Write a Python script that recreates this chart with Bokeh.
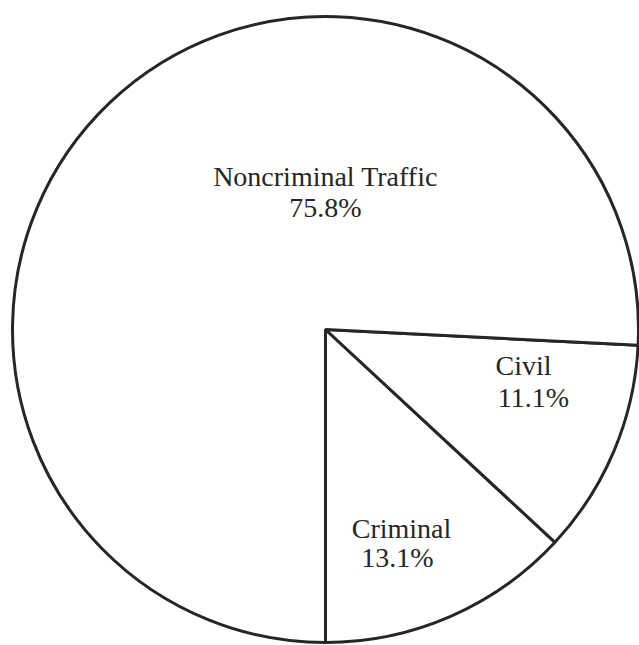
import numpy as np
from bokeh.plotting import figure
from bokeh.models import ColumnDataSource, Range1d
from bokeh.core.properties import value
from bokeh.embed import file_html
from bokeh.resources import INLINE

# ---- data ----
categories = ["Criminal", "Civil", "Noncriminal Traffic"]
percent = [13.1, 11.1, 75.8]
pct_labels = ["13.1%", "11.1%", "75.8%"]

# ---- layout / style ----
W, H = 639, 645
cx, cy, R = 325, 316, 313
start_deg = -90  # first slice starts straight down, slices go counter-clockwise
name_off = [(76, -199), (198, -36), (0, 153)]
pct_off = [(72, -228), (208, -68), (0, 122)]
ink = "#262626"
font = value("Liberation Serif")
fsize = "28px"

frac = np.array(percent) / sum(percent)
ends = np.cumsum(frac) * 2 * np.pi + np.radians(start_deg)
starts = ends - frac * 2 * np.pi

src = ColumnDataSource(dict(
    cat=categories, pct=pct_labels,
    x=[cx] * len(categories), y=[cy] * len(categories),
    start=starts, end=ends,
))

p = figure(width=W, height=H, output_backend="svg", toolbar_location=None,
           x_axis_location=None, y_axis_location=None,
           x_range=Range1d(0, W), y_range=Range1d(0, H), min_border=0)
p.outline_line_color = None
p.grid.visible = False
p.background_fill_color = "white"
p.border_fill_color = "white"

p.wedge(x="x", y="y", radius=R, start_angle="start", end_angle="end",
        source=src, fill_color="white", line_color=ink, line_width=3)

lab = ColumnDataSource(dict(
    nx=[cx + d[0] for d in name_off], ny=[cy + d[1] for d in name_off],
    px=[cx + d[0] for d in pct_off], py=[cy + d[1] for d in pct_off],
    name=categories, pct=pct_labels,
))
p.text(x="nx", y="ny", text="name", source=lab, text_font=font,
       text_font_size=fsize, text_color=ink, text_align="center",
       text_baseline="alphabetic")
p.text(x="px", y="py", text="pct", source=lab, text_font=font,
       text_font_size=fsize, text_color=ink, text_align="center",
       text_baseline="alphabetic")

open("out.html", "w").write(file_html(p, INLINE))
